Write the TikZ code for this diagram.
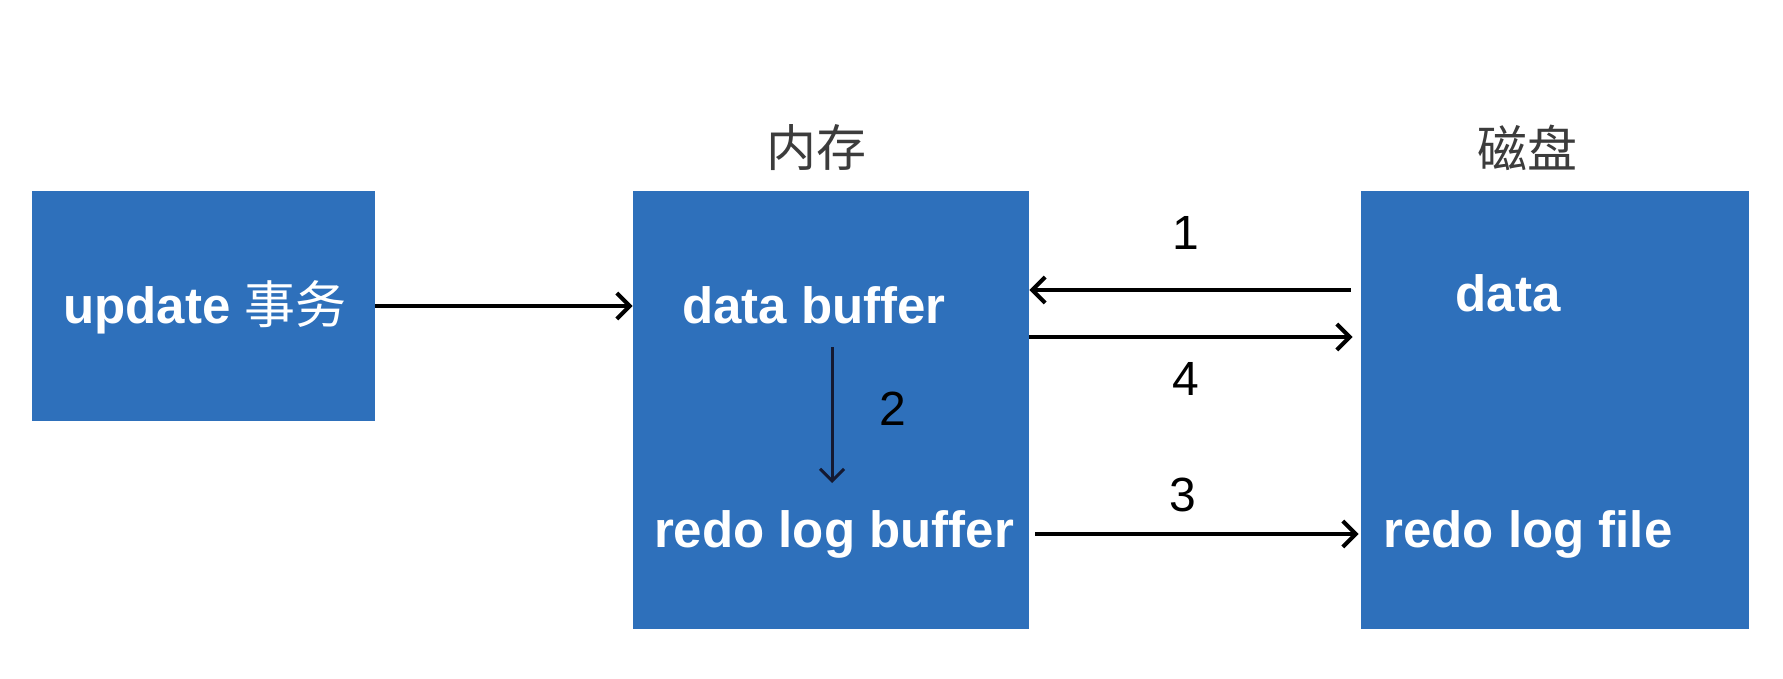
\documentclass[tikz,border=0pt]{standalone}
\usepackage{fontspec}
\setmainfont{Liberation Sans}
\newfontfamily\cjk{Noto Sans CJK SC}
\usetikzlibrary{arrows.meta}
\definecolor{boxblue}{RGB}{46,112,187}
\definecolor{hdr}{RGB}{60,60,60}
\definecolor{navy}{RGB}{20,25,50}
\begin{document}
\begin{tikzpicture}[x=0.5pt,y=-0.5pt,
  blk/.style={fill=boxblue, draw=none, inner sep=0pt},
  lbl/.style={text=white, inner sep=0pt, font=\bfseries\fontsize{25.5}{30}\selectfont},
  num/.style={text=black, inner sep=0pt, font=\fontsize{24}{28}\selectfont},
  head/.style={text=hdr, inner sep=0pt, font=\cjk\fontsize{25}{30}\selectfont},
  arr/.style={-{Straight Barb[length=6.5pt,width=13pt,line width=2pt]}, line width=2pt, black},
  arrv/.style={-{Straight Barb[length=6pt,width=12pt,line width=1.5pt]}, line width=1.5pt, navy}
]
\useasboundingbox (0,0) rectangle (1783,679);
% boxes
\node[blk, minimum width=171.5pt, minimum height=115pt] (b1) at (203.5,306) {};
\node[blk, minimum width=198pt, minimum height=219pt] (b2) at (831,410) {};
\node[blk, minimum width=194pt, minimum height=219pt] (b3) at (1555,410) {};
% headers
\node[head] (h1) at (816,148) {内存};
\node[head] (h2) at (1527,148) {磁盘};
% texts
\node[lbl] (t1) at (205,307) {update {\cjk\mdseries 事务}};
\node[lbl] (t2) at (814,305) {data buffer};
\node[lbl] (t3) at (834,534) {redo log buffer};
\node[lbl] (t4) at (1508,293) {data};
\node[lbl] (t5) at (1528,534) {redo log file};
% numbers
\node[num] (n1) at (1186,233) {1};
\node[num] (n4) at (1186,379) {4};
\node[num] (n3) at (1183,495) {3};
\node[num] (n2) at (893,409) {2};
% helper coordinates
\coordinate (y1) at (0,290);
\coordinate (y4) at (0,337);
\coordinate (y3) at (0,534);
\coordinate (a2s) at (832,347);
\coordinate (a2e) at (832,483);
% arrows
\draw[arr] (b1.east) -- (b1.east -| b2.west);
\draw[arr, shorten <=5pt] (b3.west |- y1) -- (b2.east |- y1);
\draw[arr, shorten >=4pt] (b2.east |- y4) -- (b3.west |- y4);
\draw[arr, shorten <=3pt, shorten >=1pt] (b2.east |- y3) -- (b3.west |- y3);
\draw[arrv] (a2s) -- (a2e);
\end{tikzpicture}
\end{document}
